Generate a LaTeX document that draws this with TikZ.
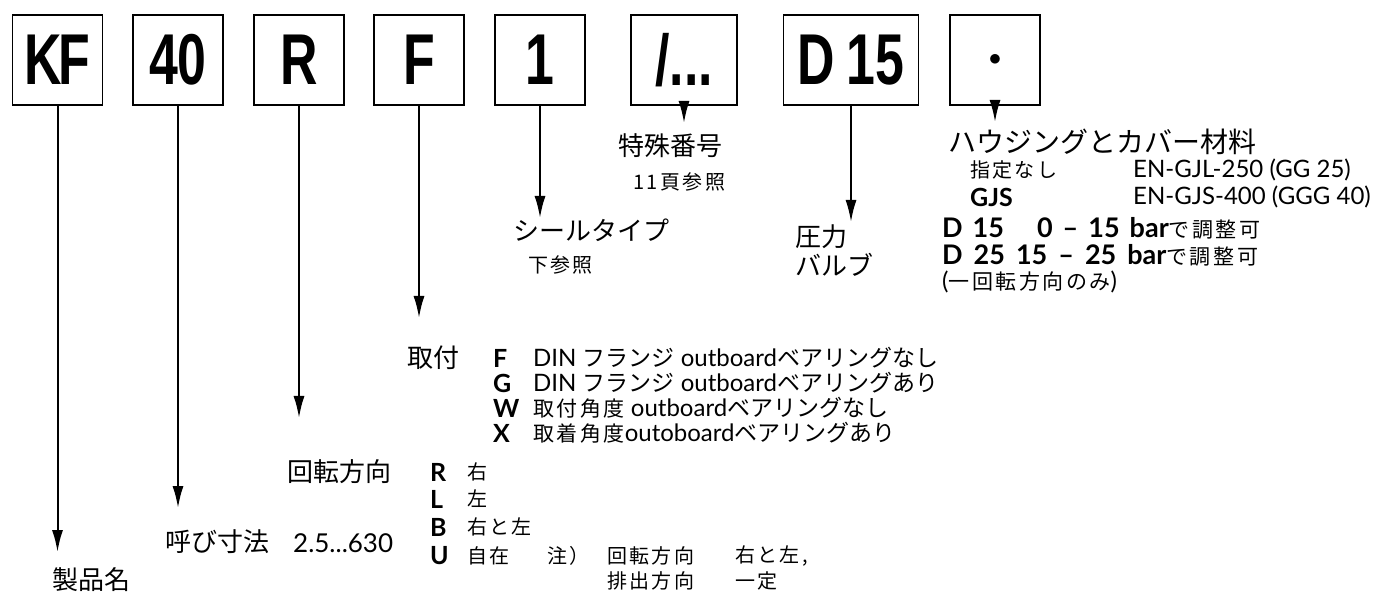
\documentclass[tikz,border=0pt]{standalone}
\usepackage{fontspec}
\setmainfont{Lato}
\newfontfamily\jp{Noto Sans CJK JP}
\newfontfamily\jps[LetterSpace=12]{Noto Sans CJK JP}
\newfontfamily\boxfont[FakeStretch=0.72]{Liberation Sans}
\usetikzlibrary{arrows.meta}
\begin{document}
\begin{tikzpicture}[x=1pt,y=-1pt,
  codebox/.style={draw, line width=1.8pt, minimum width=90pt, minimum height=90pt, inner sep=0pt,
    font=\boxfont\bfseries\fontsize{72}{72}\selectfont},
  arr/.style={-{Latex[length=22pt,width=11pt]}, line width=2pt},
  head/.style={anchor=west, inner sep=0pt, font=\jp\fontsize{26}{26}\selectfont},
  sub/.style={anchor=west, inner sep=0pt, font=\jps\fontsize{20}{20}\selectfont},
  lat/.style={anchor=west, inner sep=0pt, font=\fontsize{24}{24}\selectfont},
  mnt/.style={anchor=west, inner sep=0pt, font=\fontsize{24}{24}\selectfont},
  bl/.style={anchor=west, inner sep=0pt, font=\bfseries\fontsize{25}{25}\selectfont},
  dl/.style={anchor=west, inner sep=0pt, font=\bfseries\fontsize{27}{27}\selectfont}]
\useasboundingbox (0,0) rectangle (1376,593);
% code boxes
\node[codebox] (kf) at (57.5,60) {K\kern-3pt F};
\node[codebox] (b40) at (178,60) {40};
\node[codebox] (br) at (299,60) {R};
\node[codebox] (bf) at (419,60) {F};
\node[codebox] (b1) at (540,60) {1};
\node[codebox, minimum width=106pt] (bs) at (684,60) {/...};
\node[codebox, minimum width=135pt] (bd) at (851,60) {D\,15};
\node[codebox] (bdot) at (995,60) {\fontsize{36}{36}\selectfont$\bullet$};
% arrow ends
\coordinate (kfe) at (57.5,552);
\coordinate (b40e) at (178,508);
\coordinate (bre) at (299,418);
\coordinate (bfe) at (419,318);
\coordinate (b1e) at (540,218);
\coordinate (bse) at (684,123);
\coordinate (bde) at (851,222);
\coordinate (bdote) at (995,122);
\foreach \n in {kf,b40,br,bf,b1,bs,bd,bdot} \draw[arr] (\n.south) -- (\n e);
% labels
\node[head] (t1) at (52,580) {製品名};
\node[head] (t2) at (165,542) {呼び寸法};
\node[lat, font=\fontsize{26}{26}\selectfont] (t2n) at (293,543) {2.5...630};
% rotation
\node[head] (t3) at (287,472) {回転方向};
\node[bl] (rR) at (430,472) {R};
\node[sub] (rRt) at (467,472) {右};
\node[bl] (rL) at (430,499) {L};
\node[sub] (rLt) at (467,499) {左};
\node[bl] (rB) at (430,527) {B};
\node[sub] (rBt) at (467,527) {右と左};
\node[bl] (rU) at (430,556) {U};
\node[sub] (rUt) at (467,556) {自在};
\node[sub] (rUn) at (547,556) {注）};
\node[sub] (rUa) at (607,556) {回転方向};
\node[sub] (rUb) at (735,556) {右と左,};
\node[sub] (rUc) at (607,581) {排出方向};
\node[sub] (rUd) at (735,581) {一定};
% mounting
\node[head] (t4) at (407,358) {取付};
\node[bl] (mF) at (493,358) {F};
\node[mnt] (mFt) at (533,358) {DIN {\jp\fontsize{23}{23}\selectfont フランジ} outboard{\jp\fontsize{23}{23}\selectfont ベアリングなし}};
\node[bl] (mG) at (493,383) {G};
\node[mnt] (mGt) at (533,383) {DIN {\jp\fontsize{23}{23}\selectfont フランジ} outboard{\jp\fontsize{23}{23}\selectfont ベアリングあり}};
\node[bl] (mW) at (493,408) {W};
\node[mnt] (mWt) at (533,408) {{\jps\fontsize{21}{21}\selectfont 取付角度} outboard{\jp\fontsize{23}{23}\selectfont ベアリングなし}};
\node[bl] (mX) at (493,433) {X};
\node[mnt] (mXt) at (533,433) {{\jps\fontsize{21}{21}\selectfont 取着角度}outoboard{\jp\fontsize{23}{23}\selectfont ベアリングあり}};
% seal
\node[head] (t5) at (513,230) {シールタイプ};
\node[sub] (t5s) at (528,265) {下参照};
% special
\node[head] (t6) at (618,146) {特殊番号};
\node[sub] (t6s) at (633,182) {11頁参照};
% valve
\node[head] (t7) at (795,237) {圧力};
\node[head] (t7b) at (795,265) {バルブ};
% housing
\node[head, font=\jp\fontsize{28}{28}\selectfont] (t8) at (948,142) {ハウジングとカバー材料};
\node[sub] (h1) at (970,170) {指定なし};
\node[lat] (h1t) at (1133,170) {EN-GJL-250 (GG 25)};
\node[bl] (h2) at (970,197) {GJS};
\node[lat] (h2t) at (1133,197) {EN-GJS-400 (GGG 40)};
\node[dl] (d1) at (942,228) {D\hspace{10pt}15\hspace{33pt}0\hspace{10pt}–\hspace{10pt}15\hspace{10pt}bar{\mdseries\jps\fontsize{21}{21}\selectfont で調整可}};
\node[dl] (d2) at (942,255) {D\hspace{11pt}25\hspace{11pt}15\hspace{11pt}–\hspace{11pt}25\hspace{11pt}bar{\mdseries\jps\fontsize{21}{21}\selectfont で調整可}};
\node[lat] (d3) at (942,282) {({\jps\fontsize{21}{21}\selectfont 一回転方向のみ})};
\end{tikzpicture}
\end{document}
